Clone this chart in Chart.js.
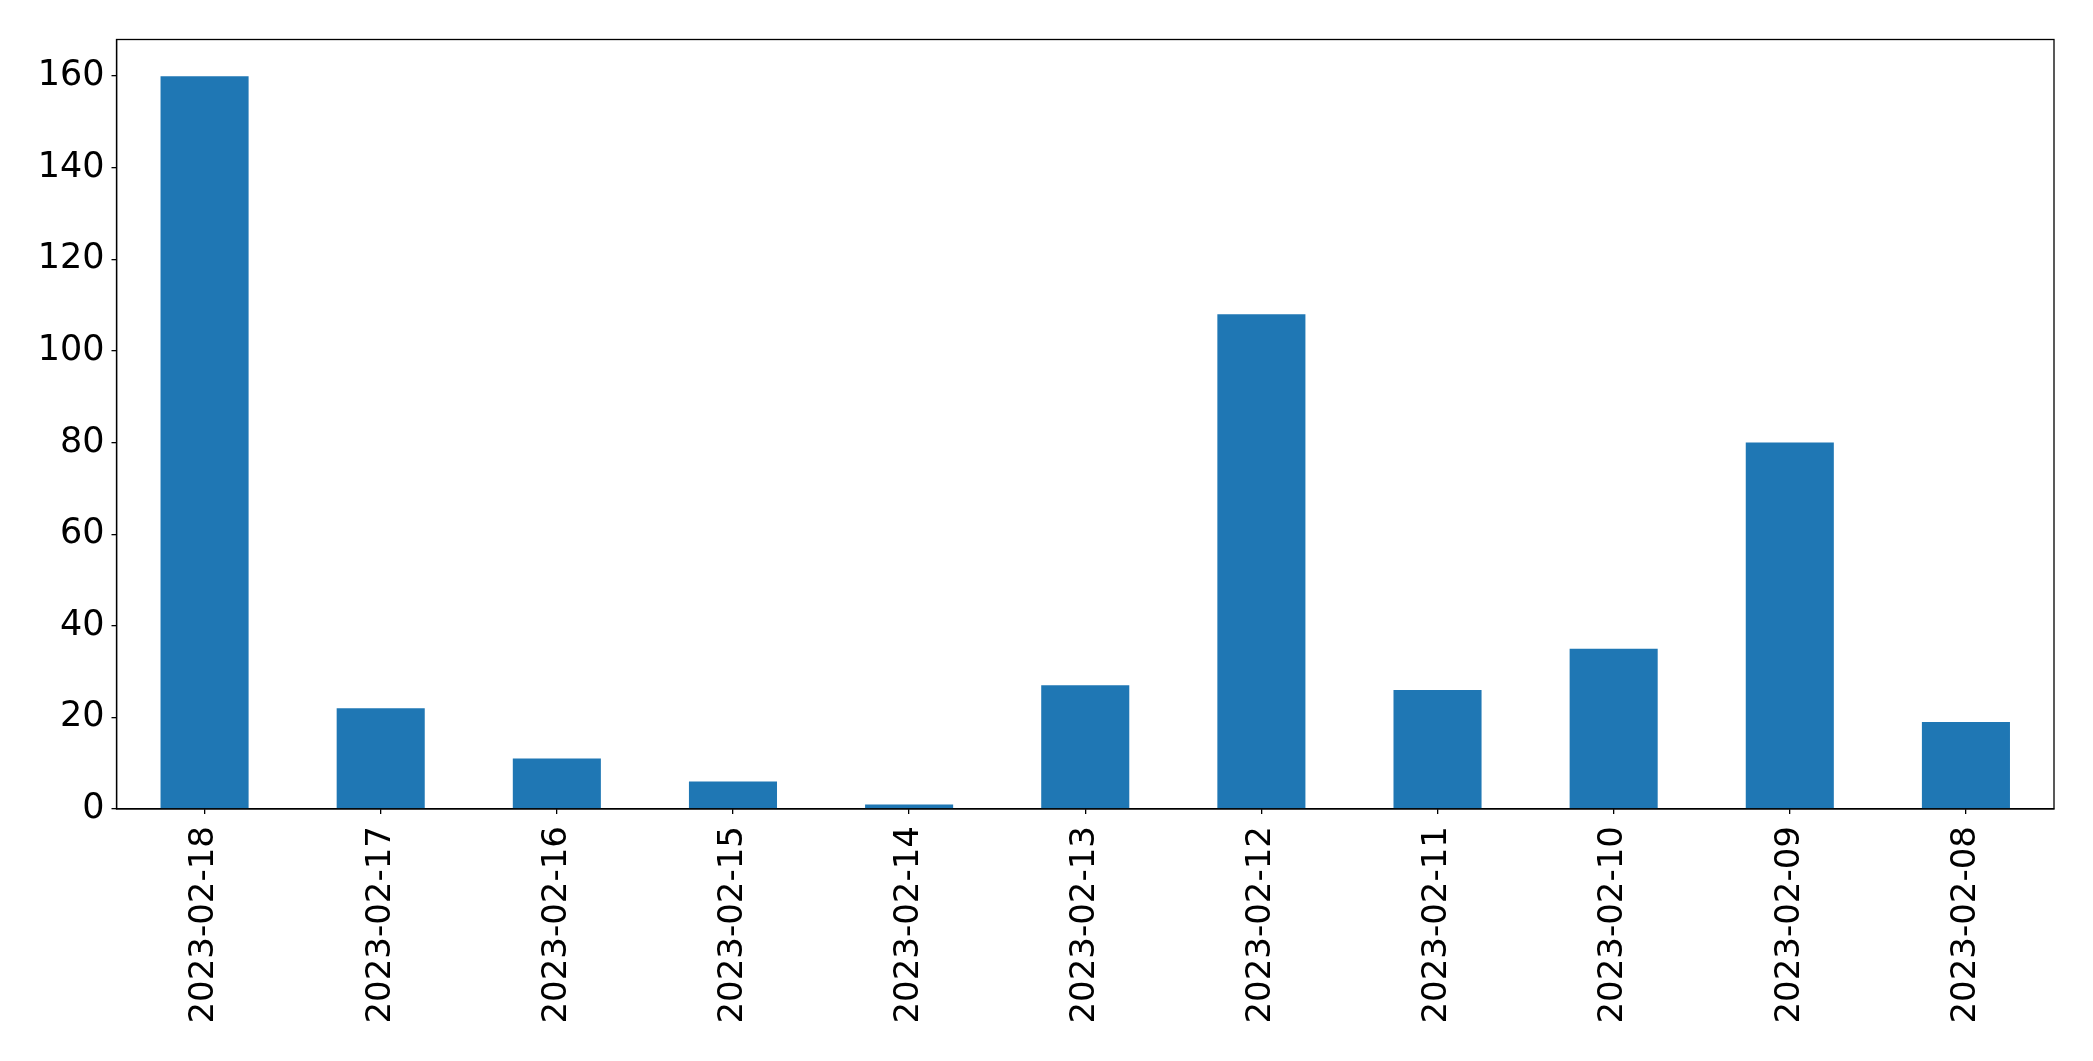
<!DOCTYPE html>
<html>
<head>
<meta charset="utf-8">
<script src="https://cdn.jsdelivr.net/npm/chart.js@4"></script>
<style>
  html, body { margin: 0; padding: 0; background: #fff; }
  #wrap { width: 2093px; height: 1061px; }
</style>
</head>
<body>
<div id="wrap"><canvas id="c" width="2093" height="1061"></canvas></div>
<script>
const categories = ['2023-02-18','2023-02-17','2023-02-16','2023-02-15','2023-02-14','2023-02-13','2023-02-12','2023-02-11','2023-02-10','2023-02-09','2023-02-08'];
const counts = [160, 22, 11, 6, 1, 27, 108, 26, 35, 80, 19];
const yTicks = [0, 20, 40, 60, 80, 100, 120, 140, 160];
const yMax = 168;

const XFONT = { family: 'DejaVu Sans', size: 34 };
const YFONT = { family: 'DejaVu Sans', size: 35 };

const framePlugin = {
  id: 'frame',
  afterDraw(chart) {
    const a = chart.chartArea, ctx = chart.ctx;
    ctx.save();
    ctx.strokeStyle = '#000';
    ctx.lineWidth = 1.3;
    ctx.strokeRect(a.left, a.top, a.right - a.left, a.bottom - a.top);
    ctx.restore();
  }
};

new Chart(document.getElementById('c'), {
  type: 'bar',
  data: {
    labels: categories,
    datasets: [{
      data: counts,
      backgroundColor: '#1f77b4',
      borderWidth: 0,
      barPercentage: 0.5,
      categoryPercentage: 1.0
    }]
  },
  options: {
    responsive: false,
    animation: false,
    events: [],
    layout: { padding: { left: 0, top: 39.5, right: 39, bottom: 0 } },
    plugins: { legend: { display: false }, tooltip: { enabled: false }, title: { display: false } },
    scales: {
      x: {
        grid: { display: true, offset: false, drawOnChartArea: false, drawTicks: true, tickLength: 5, color: '#000', tickColor: '#000', lineWidth: 1.3 },
        border: { display: true, color: '#000', width: 1.3 },
        ticks: { color: '#000', font: XFONT, minRotation: 90, maxRotation: 90, padding: 12, autoSkip: false },
        afterFit(s) { s.height = 1061 - 809; }
      },
      y: {
        min: 0,
        max: yMax,
        grid: { display: true, drawOnChartArea: false, drawTicks: true, tickLength: 5, color: '#000', tickColor: '#000', lineWidth: 1.3 },
        border: { display: true, color: '#000', width: 1.3 },
        ticks: { color: '#000', font: YFONT, padding: 7 },
        afterBuildTicks(s) { s.ticks = yTicks.map(v => ({ value: v })); },
        afterFit(s) { s.width = 116.5; }
      }
    }
  },
  plugins: [framePlugin]
});
</script>
</body>
</html>
